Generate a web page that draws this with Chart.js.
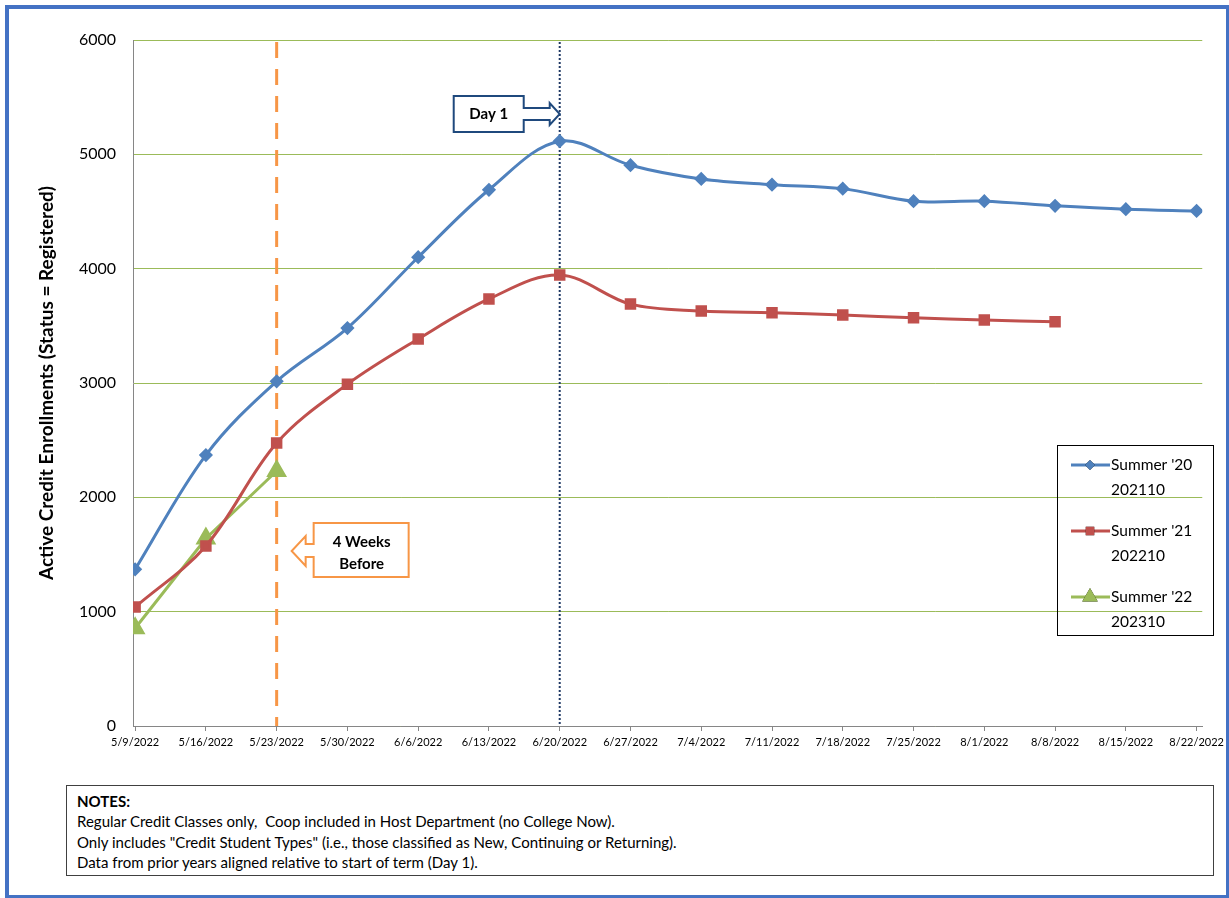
<!DOCTYPE html>
<html>
<head>
<meta charset="utf-8">
<script src="https://cdn.jsdelivr.net/npm/chart.js@4"></script>
<style>
  body { margin: 0; background: #fff; font-family: Lato, "Open Sans", sans-serif; }
  #frame { position: absolute; left: 5px; top: 5px; width: 1217px; height: 886px; border: 4px solid #4472C4; }
  #wrap { position: absolute; left: 0; top: 0; width: 1229px; height: 780px; }
  #notes { position: absolute; left: 66px; top: 785px; width: 1136px; height: 84px; border: 1px solid #404040;
           padding: 5px 0 0 10px; font-size: 15px; line-height: 20.3px; color: #000; }
  #notes b { font-weight: bold; }
</style>
</head>
<body>
<div id="frame"></div>
<div id="wrap"><canvas id="myChart"></canvas></div>
<div id="notes">
  <b>NOTES:</b><br>
  Regular Credit Classes only,&nbsp; Coop included in Host Department (no College Now).<br>
  Only includes "Credit Student Types" (i.e., those classified as New, Continuing or Returning).<br>
  Data from prior years aligned relative to start of term (Day 1).
</div>
<script>
const dates = ["5/9/2022", "5/16/2022", "5/23/2022", "5/30/2022", "6/6/2022", "6/13/2022", "6/20/2022", "6/27/2022",
  "7/4/2022", "7/11/2022", "7/18/2022", "7/25/2022", "8/1/2022", "8/8/2022", "8/15/2022", "8/22/2022"];
const summer20 = [1370, 2370, 3015, 3480, 4100, 4690, 5115, 4905, 4785, 4735, 4700, 4590, 4590, 4550, 4520, 4505];
const summer21 = [1040, 1575, 2475, 2990, 3385, 3735, 3945, 3690, 3630, 3615, 3595, 3570, 3550, 3535];
const summer22 = [855, 1640, 2230];
const seriesNames = [["Summer '20", "202110"], ["Summer '21", "202210"], ["Summer '22", "202310"]];
const yTicks = [0, 1000, 2000, 3000, 4000, 5000, 6000];
const fourWeeksIdx = 2;
const day1Idx = 6;

const toPts = (arr) => arr.map((v, i) => ({ x: i, y: v }));

// vertical marker lines + callouts + legend
const markers = {
  id: "markers",
  beforeDatasetsDraw(chart) {
    const { ctx, scales: { x, y } } = chart;
    const top = y.getPixelForValue(6000), bot = y.getPixelForValue(0);
    ctx.save();
    let px = x.getPixelForValue(fourWeeksIdx);
    ctx.strokeStyle = "#F79646"; ctx.lineWidth = 3; ctx.setLineDash([16, 11]);
    ctx.beginPath(); ctx.moveTo(px, top + 2); ctx.lineTo(px, bot); ctx.stroke();
    px = x.getPixelForValue(day1Idx);
    ctx.strokeStyle = "#1F3864"; ctx.lineWidth = 2; ctx.setLineDash([2, 2]);
    ctx.beginPath(); ctx.moveTo(px, top + 2); ctx.lineTo(px, bot); ctx.stroke();
    ctx.restore();
  },
  afterDraw(chart) {
    const { ctx, scales: { x } } = chart;
    ctx.save();
    ctx.lineWidth = 2; ctx.setLineDash([]);
    // Day 1 callout (arrow right)
    let tip = x.getPixelForValue(day1Idx);
    ctx.strokeStyle = "#1F497D"; ctx.fillStyle = "#fff";
    ctx.beginPath();
    ctx.moveTo(tip - 106, 96); ctx.lineTo(tip - 36, 96); ctx.lineTo(tip - 36, 108); ctx.lineTo(tip - 10, 108);
    ctx.lineTo(tip - 10, 103); ctx.lineTo(tip, 114); ctx.lineTo(tip - 10, 125); ctx.lineTo(tip - 10, 120);
    ctx.lineTo(tip - 36, 120); ctx.lineTo(tip - 36, 132); ctx.lineTo(tip - 106, 132); ctx.closePath();
    ctx.fill(); ctx.stroke();
    ctx.fillStyle = "#000"; ctx.font = "bold 15px Lato, sans-serif";
    ctx.textAlign = "center"; ctx.textBaseline = "middle";
    ctx.fillText("Day 1", tip - 71, 114);
    // 4 Weeks Before callout (arrow left)
    tip = x.getPixelForValue(fourWeeksIdx) + 15;
    ctx.strokeStyle = "#F79646"; ctx.fillStyle = "#fff";
    ctx.beginPath();
    ctx.moveTo(tip + 22, 523); ctx.lineTo(tip + 117, 523); ctx.lineTo(tip + 117, 577); ctx.lineTo(tip + 22, 577);
    ctx.lineTo(tip + 22, 557); ctx.lineTo(tip + 14, 557); ctx.lineTo(tip + 14, 566); ctx.lineTo(tip, 551);
    ctx.lineTo(tip + 14, 536); ctx.lineTo(tip + 14, 544); ctx.lineTo(tip + 22, 544); ctx.closePath();
    ctx.fill(); ctx.stroke();
    ctx.fillStyle = "#000";
    ctx.fillText("4 Weeks", tip + 70, 542);
    ctx.fillText("Before", tip + 70, 564);
    // legend box
    ctx.strokeStyle = "#000"; ctx.lineWidth = 1;
    ctx.strokeRect(1057.5, 445.5, 156, 190);
    ctx.font = "15.5px Lato, sans-serif"; ctx.textAlign = "left";
    chart.data.datasets.forEach((ds, i) => {
      const ly = 465 + i * 66;
      ctx.strokeStyle = ds.borderColor; ctx.lineWidth = 3;
      ctx.beginPath(); ctx.moveTo(1071, ly); ctx.lineTo(1110, ly); ctx.stroke();
      Chart.helpers.drawPoint(ctx, { pointStyle: ds.pointStyle, radius: ds.pointRadius, rotation: 0, borderWidth: 0 }, 1090, ly);
      ctx.fillStyle = ds.borderColor; ctx.fill();
      ctx.fillStyle = "#000";
      ctx.fillText(seriesNames[i][0], 1111, ly);
      ctx.fillText(seriesNames[i][1], 1111, ly + 25);
    });
    ctx.restore();
  }
};

new Chart(document.getElementById("myChart"), {
  type: "line",
  data: {
    datasets: [
      { label: "Summer '20", data: toPts(summer20), borderColor: "#4F81BD", backgroundColor: "#4F81BD",
        borderWidth: 3, pointStyle: "rectRot", pointRadius: 5, tension: 0.35 },
      { label: "Summer '21", data: toPts(summer21), borderColor: "#C0504D", backgroundColor: "#C0504D",
        borderWidth: 3, pointStyle: "rect", pointRadius: 6, tension: 0.35 },
      { label: "Summer '22", data: toPts(summer22), borderColor: "#9BBB59", backgroundColor: "#9BBB59",
        borderWidth: 3, pointStyle: "triangle", pointRadius: 9, tension: 0 }
    ]
  },
  options: {
    responsive: true,
    maintainAspectRatio: false,
    animation: false,
    layout: { padding: { left: 31, right: 19, top: 40, bottom: 0 } },
    plugins: { legend: { display: false }, tooltip: { enabled: false } },
    scales: {
      x: {
        type: "linear", min: -0.03, max: 15.08,
        afterFit: (s) => { s.height = 54; },
        afterBuildTicks: (s) => { s.ticks = dates.map((d, i) => ({ value: i })); },
        grid: { drawOnChartArea: false, tickLength: 5, color: "#868686" },
        border: { color: "#868686" },
        ticks: { autoSkip: false, maxRotation: 0, padding: 5, color: "#000",
          font: { family: "Lato", size: 11 }, callback: (v) => dates[v] }
      },
      y: {
        min: 0, max: 6000,
        afterFit: (s) => { s.width = 102; },
        afterBuildTicks: (s) => { s.ticks = yTicks.map((v) => ({ value: v })); },
        grid: { color: "#9BBB59", drawTicks: false },
        border: { color: "#868686" },
        ticks: { padding: 17, color: "#000", font: { family: "Lato", size: 16 }, callback: (v) => String(v) },
        title: { display: true, text: "Active Credit Enrollments (Status = Registered)", color: "#000",
          font: { family: "Lato", size: 19, weight: "bold" }, padding: 4 }
      }
    }
  },
  plugins: [markers]
});
</script>
</body>
</html>
